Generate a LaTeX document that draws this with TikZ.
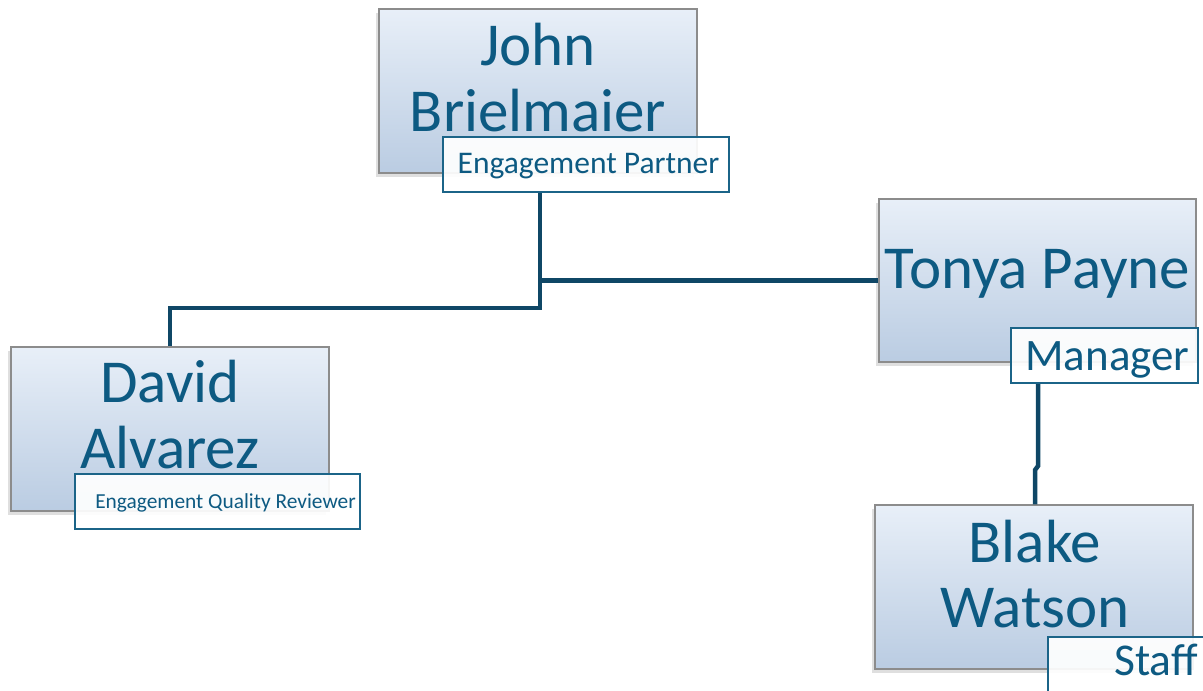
\documentclass[tikz,border=0pt]{standalone}
\usepackage{fontspec}
\setmainfont{Carlito}
\usetikzlibrary{shadows,calc}
\definecolor{txt}{HTML}{0D5A82}
\definecolor{conn}{HTML}{0F4766}
\definecolor{lab}{HTML}{1B6488}
\definecolor{bord}{HTML}{8C8C8C}
\definecolor{ftop}{HTML}{E8EFF8}
\definecolor{fbot}{HTML}{BACCE2}
\tikzset{
  person/.style={draw=bord, line width=1.2pt, top color=ftop, bottom color=fbot,
    inner sep=0pt, drop shadow={shadow xshift=-3pt, shadow yshift=-4pt, opacity=0.25}},
  rolebox/.style={draw=lab, line width=1.6pt, fill=white, fill opacity=0.92, inner sep=0pt},
  pname/.style={text=txt, font=\fontsize{61}{70}\selectfont, anchor=base, inner sep=0pt},
  role/.style={text=txt, anchor=base, inner sep=0pt},
  link/.style={draw=conn, line width=4.5pt}
}
\begin{document}
\begin{tikzpicture}[x=1pt,y=-1pt]
\useasboundingbox (0,0) rectangle (1203,691);
\clip (0,0) rectangle (1203,691);
% John
\node[person, minimum width=318pt, minimum height=164pt] (john) at (538,91) {};
\node[pname] (johnt1) at (538,65) {John};
\node[pname] (johnt2) at (538,131) {Brielmaier};
% David
\node[person, minimum width=318pt, minimum height=164pt] (david) at (170,429) {};
\node[pname] (davidt1) at (170,402) {David};
\node[pname] (davidt2) at (170,468) {Alvarez};
% Tonya
\node[person, minimum width=317pt, minimum height=163pt] (tonya) at (1037.5,280.5) {};
\node[pname] (tonyat) at (1037.5,288) {Tonya Payne};
% Blake
\node[person, minimum width=318pt, minimum height=164pt] (blake) at (1034,587) {};
\node[pname] (blaket1) at (1035,562) {Blake};
\node[pname] (blaket2) at (1035,627) {Watson};

% connectors
\coordinate (jdown) at (540,192);
\coordinate (jbend) at ($(jdown)+(0,116)$);
\draw[link] (jdown) -- (jbend) -| (david.north);
\draw[link] (tonya.west) -- (tonya.west -| jdown);
\coordinate (mdown) at (1038,383);
\coordinate (mjog) at ($(mdown)+(-3,87)$);
\draw[link] (mdown) -- ++(0,83) -- (mjog) -- (mjog |- blake.north);

% role boxes
\node[rolebox, minimum width=286pt, minimum height=55pt] (jrole) at (586,164.5) {};
\node[role, font=\fontsize{31.5}{36}\selectfont] (jrolet) at (588.5,173) {Engagement Partner};
\node[rolebox, minimum width=285pt, minimum height=55pt] (drole) at (217.5,501.5) {};
\node[role, font=\fontsize{21.4}{25}\selectfont] (drolet) at (225.5,508) {Engagement Quality Reviewer};
\node[rolebox, minimum width=187pt, minimum height=55pt] (mrole) at (1104.5,355.5) {};
\node[role, font=\fontsize{45}{52}\selectfont] (mrolet) at (1107.5,370) {Manager};
\node[rolebox, minimum width=182pt, minimum height=73pt] (srole) at (1139,673.5) {};
\node[role, font=\fontsize{45.5}{52}\selectfont] (srolet) at (1156,675) {Staff};
\end{tikzpicture}
\end{document}
